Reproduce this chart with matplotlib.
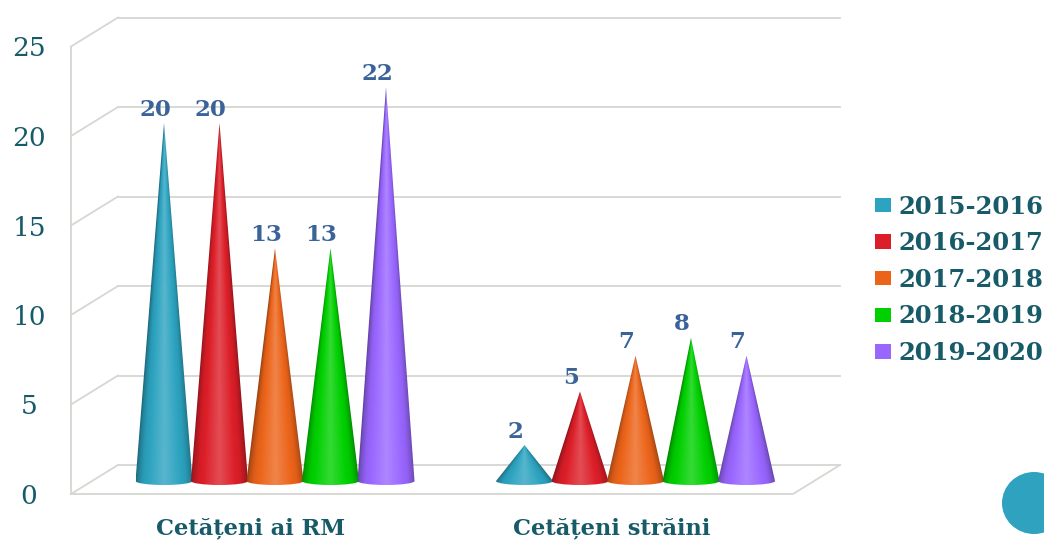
import numpy as np
import matplotlib
matplotlib.use("Agg")
import matplotlib.pyplot as plt
from matplotlib.patches import Patch, PathPatch, Ellipse
from matplotlib.path import Path
from matplotlib.colors import to_rgb

categories = ["Cetățeni ai RM", "Cetățeni străini"]
years = ["2015-2016", "2016-2017", "2017-2018", "2018-2019", "2019-2020"]
s2015 = [20, 2]
s2016 = [20, 5]
s2017 = [13, 7]
s2018 = [13, 8]
s2019 = [22, 7]
series = [s2015, s2016, s2017, s2018, s2019]
colors = ["#2CA3C0", "#DC1E28", "#EC641A", "#00D000", "#9966FF"]
yticks = [0, 5, 10, 15, 20, 25]

W, H = 1044, 541
PX_X = 360.5          # pixels per category
PX_Y = 17.9           # pixels per value unit
X0, Y0 = 275, 481     # pixel of category 0 / value 0 at cone base
GRID = "#D6D6D2"
TEAL = "#175B69"
BLUE = "#3A6399"
FONT = "DejaVu Serif"

fig = plt.figure(figsize=(W / 100, H / 100), dpi=100)
ax = fig.add_axes([0, 0, 1, 1])
ax.axis("off")
xlim = (-X0 / PX_X, (W - X0) / PX_X)
ylim = ((Y0 - H) / PX_Y, Y0 / PX_Y)


def dx(px):
    return (px - X0) / PX_X


def dy(px):
    return (Y0 - px) / PX_Y


# walls and floor
xf, xb, xfr, xbr = dx(71), dx(118), dx(793), dx(840)
front0, back0 = dy(494), dy(465)
for t in yticks:
    yf, yb = front0 + t, back0 + t
    ax.plot([xf, xb], [yf, yb], color=GRID, lw=1.3, zorder=1)
    ax.plot([xb, xbr], [yb, yb], color=GRID, lw=1.3, zorder=1)
    ax.text(dx(29), yf, str(t), family=FONT, fontsize=19, color=TEAL,
            ha="center", va="center_baseline")
ax.plot([xf, xf], [front0, front0 + yticks[-1]], color=GRID, lw=1.3, zorder=1)
ax.plot([xf, xfr, xbr], [front0, front0, back0], color=GRID, lw=1.3, zorder=1)

# cones
half_w = 28.5 / PX_X
ry = 4 / PX_Y
k = 0.5522847
offs = 55.5 / PX_X


def shade(col, v):
    """Cylinder-like shading that narrows with the cone's local width."""
    c = np.array(to_rgb(col))
    u = np.linspace(-1, 1, 160)
    h = np.linspace(v, -ry, 400)
    local = np.maximum(1 - np.maximum(h, 0) / v, 1e-3)
    uu = np.abs(u[None, :]) / local[:, None]
    f = np.interp(uu, [0, .4, .75, .94, 1.0], [1.16, 1.05, .95, .78, .66])
    out = np.where(f[..., None] <= 1, c * f[..., None],
                   c + (1 - c) * (f[..., None] - 1) * 1.3)
    return np.clip(out, 0, 1)


for j, (vals, col) in enumerate(zip(series, colors)):
    for i, v in enumerate(vals):
        x = i + (j - 2) * offs
        verts = [(x, v), (x + half_w, 0),
                 (x + half_w, -k * ry), (x + k * half_w, -ry), (x, -ry),
                 (x - k * half_w, -ry), (x - half_w, -k * ry), (x - half_w, 0),
                 (x, v)]
        codes = [Path.MOVETO, Path.LINETO,
                 Path.CURVE4, Path.CURVE4, Path.CURVE4,
                 Path.CURVE4, Path.CURVE4, Path.CURVE4,
                 Path.CLOSEPOLY]
        patch = PathPatch(Path(verts, codes), fc="none", ec="none", transform=ax.transData)
        ax.add_patch(patch)
        im = ax.imshow(shade(col, v), extent=(x - half_w, x + half_w, -ry, v),
                       aspect="auto", zorder=3 + j, interpolation="bilinear")
        im.set_clip_path(patch)
        ax.text(x - 9 / PX_X, v + 16 / PX_Y, str(v), family=FONT, fontweight="bold",
                fontsize=16.5, color=BLUE, ha="center", va="center_baseline", zorder=10)

# category labels
for i, c in enumerate(categories):
    ax.text(i - 24 / PX_X, dy(534.5), c, family=FONT, fontweight="bold", fontsize=16.2,
            color=TEAL, ha="center", va="baseline")

ax.set_xlim(*xlim)
ax.set_ylim(*ylim)

# legend
handles = [Patch(fc=c, ec="none", label=y) for c, y in zip(colors, years)]
leg = fig.legend(handles=handles, loc="upper left", bbox_to_anchor=(874.5 / W, 1 - 194.5 / H),
                 frameon=False, handlelength=0.66, handleheight=0.53, handletextpad=0.31,
                 labelspacing=0.52, borderpad=0, borderaxespad=0,
                 prop={"family": FONT, "weight": "bold", "size": 17.5}, labelcolor=TEAL)

# decorative circle
fig.add_artist(Ellipse((1034 / W, 1 - 503 / H), 64 / W, 62 / H, transform=fig.transFigure,
                       fc="#2EA2BE", ec="none"))

fig.savefig("out.png", dpi=100)
